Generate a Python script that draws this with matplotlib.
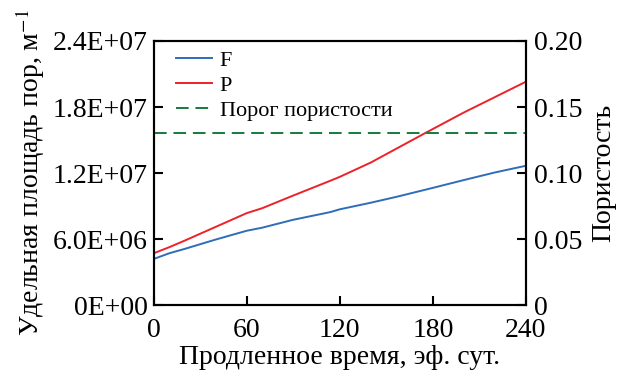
import numpy as np
import matplotlib
matplotlib.use('Agg')
import matplotlib.pyplot as plt

# data
days_p = [0, 10, 20, 40, 60, 70, 90, 114, 120, 140, 157, 176, 200, 220, 240]
area_p = [4.7e6, 5.25e6, 5.85e6, 7.1e6, 8.35e6, 8.8e6, 9.95e6, 11.3e6, 11.65e6,
          12.95e6, 14.25e6, 15.7e6, 17.5e6, 18.9e6, 20.3e6]

days_f = [0, 10, 20, 40, 60, 70, 90, 114, 120, 140, 157, 180, 200, 220, 240]
area_f = [4.18e6, 4.7e6, 5.1e6, 5.95e6, 6.75e6, 7.03e6, 7.75e6, 8.45e6, 8.7e6,
          9.3e6, 9.85e6, 10.65e6, 11.36e6, 12.05e6, 12.66e6]

threshold = 0.13

x_ticks = [0, 60, 120, 180, 240]
left_ticks = [0, 6.0e6, 1.2e7, 1.8e7, 2.4e7]
left_labels = ['0E+00', '6.0E+06', '1.2E+07', '1.8E+07', '2.4E+07']
right_ticks = [0, 0.05, 0.10, 0.15, 0.20]
right_labels = ['0', '0.05', '0.10', '0.15', '0.20']

plt.rcParams['font.family'] = ['Liberation Serif', 'DejaVu Serif']
plt.rcParams['mathtext.fontset'] = 'stix'

fig = plt.figure(figsize=(6.18, 3.72), dpi=100)
ax = fig.add_axes([0.2484, 0.180, 0.6026, 0.7098])
ax2 = ax.twinx()

blue = '#2e6db7'
red = '#ec2228'
green = '#167a3e'

lf, = ax.plot(days_f, area_f, color=blue, lw=1.4, label='F')
lp, = ax.plot(days_p, area_p, color=red, lw=1.4, label='P')
lt = ax2.axhline(threshold, color=green, lw=1.4, dashes=(6.5, 3.5), label='Порог пористости')

ax.set_xlim(0, 240)
ax.set_ylim(0, 2.4e7)
ax2.set_ylim(0, 0.20)

ax.set_xticks(x_ticks)
ax.set_yticks(left_ticks)
ax.set_yticklabels(left_labels)
ax2.set_yticks(right_ticks)
ax2.set_yticklabels(right_labels)

for a in (ax, ax2):
    a.tick_params(direction='in', length=6.5, width=1.5, labelsize=20, pad=4)
    for s in a.spines.values():
        s.set_linewidth(1.5)
ax.tick_params(axis='x', pad=9)
ax2.tick_params(axis='y', pad=6)

ax.set_xlabel('Продленное время, эф. сут.', fontsize=20, labelpad=2)
ax.set_ylabel('Удельная площадь пор, м$^{-1}$', fontsize=20, labelpad=4)
ax2.set_ylabel('Пористость', fontsize=20, labelpad=6)

ax.legend(handles=[lf, lp, lt], loc='upper left', frameon=False, fontsize=16,
          handlelength=1.65, handletextpad=0.33, labelspacing=0.2,
          borderaxespad=0.6, bbox_to_anchor=(0.0, 1.05))

fig.savefig('out.png', dpi=100)
